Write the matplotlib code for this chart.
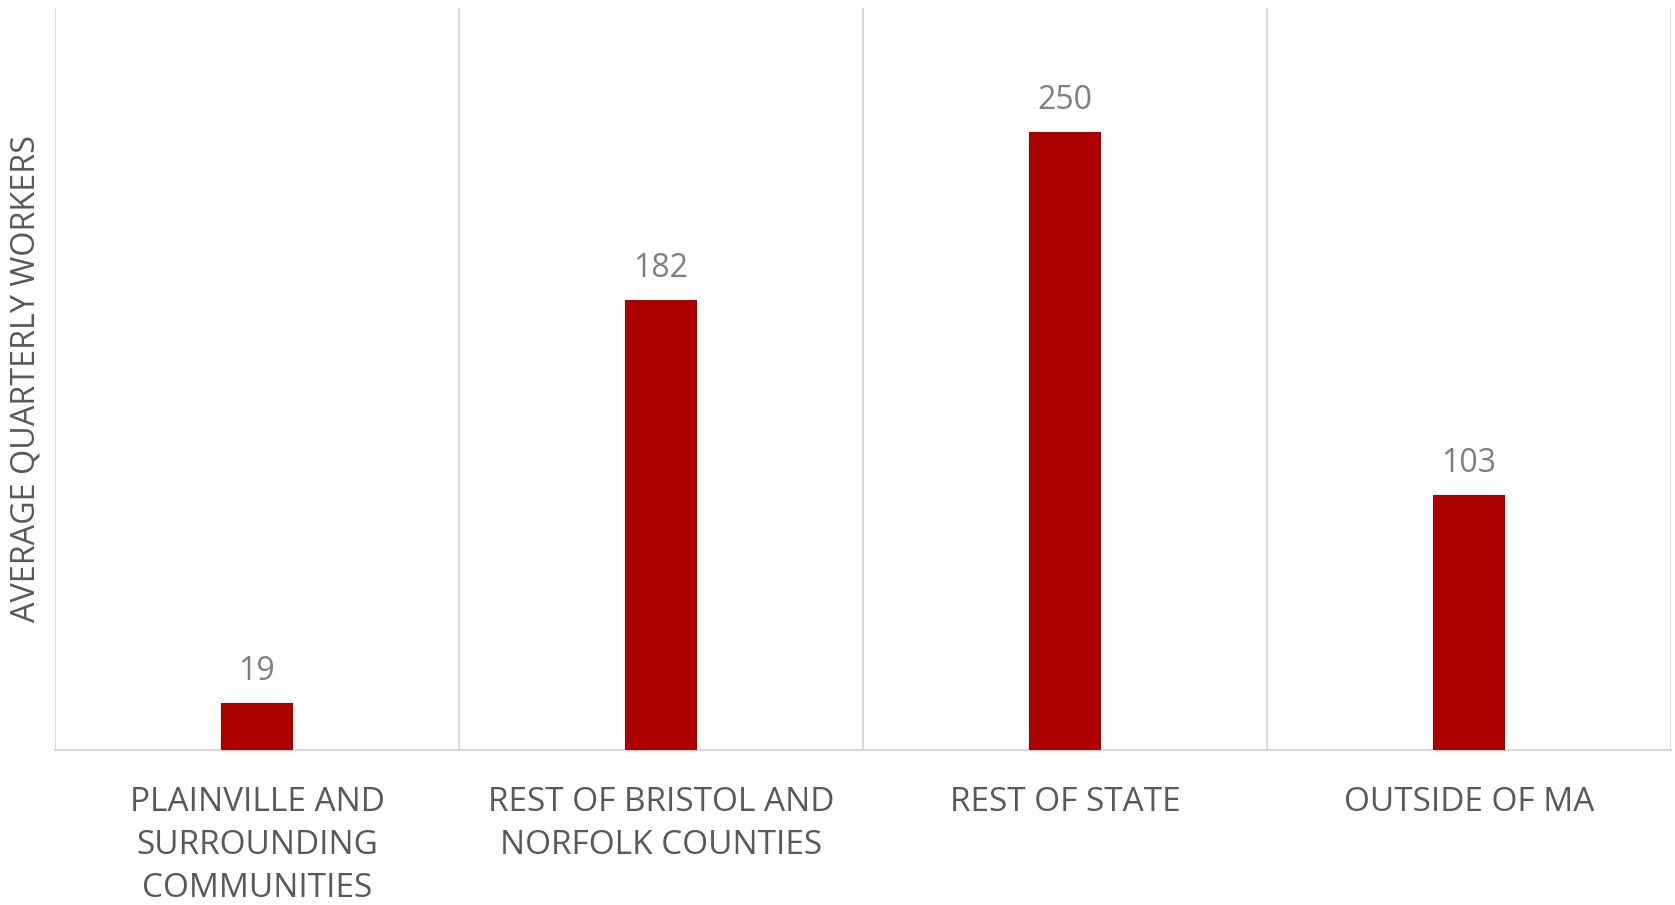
import matplotlib.pyplot as plt
import numpy as np

# categories and values
categories = ["PLAINVILLE AND\nSURROUNDING\nCOMMUNITIES",
              "REST OF BRISTOL AND\nNORFOLK COUNTIES",
              "REST OF STATE",
              "OUTSIDE OF MA"]
workers = [19, 182, 250, 103]

plt.rcParams['font.family'] = ['Open Sans', 'DejaVu Sans']

fig = plt.figure(figsize=(16.75, 9.05), dpi=100)
ax = fig.add_axes([0.0328, 0.1713, 0.9648, 0.8197])

x = np.arange(len(categories))
bars = ax.bar(x, workers, width=0.18, color='#AC0000', zorder=3)

for b, v in zip(bars, workers):
    ax.text(b.get_x() + b.get_width() / 2, v + 6, str(v),
            ha='center', va='bottom', fontsize=23, color='#7F7F7F')

ax.set_xlim(-0.5, len(categories) - 0.5)
ax.set_ylim(0, 300)
ax.set_yticks([])

# vertical separators between categories
for b in np.arange(-0.5, len(categories), 1.0):
    ax.axvline(b, color='#D9D9D9', lw=1.5, zorder=1)

ax.set_xticks(x)
ax.set_xticklabels(categories, fontsize=24, color='#595959', linespacing=1.4)
ax.tick_params(axis='x', length=0, pad=26)

for s in ['top', 'right', 'left']:
    ax.spines[s].set_visible(False)
ax.spines['bottom'].set_color('#D9D9D9')
ax.spines['bottom'].set_linewidth(1.5)

ax.set_ylabel("AVERAGE QUARTERLY WORKERS", fontsize=23.3, color='#595959')
ax.yaxis.set_label_coords(-0.008, 0.5)

fig.savefig("out.png", dpi=100)
